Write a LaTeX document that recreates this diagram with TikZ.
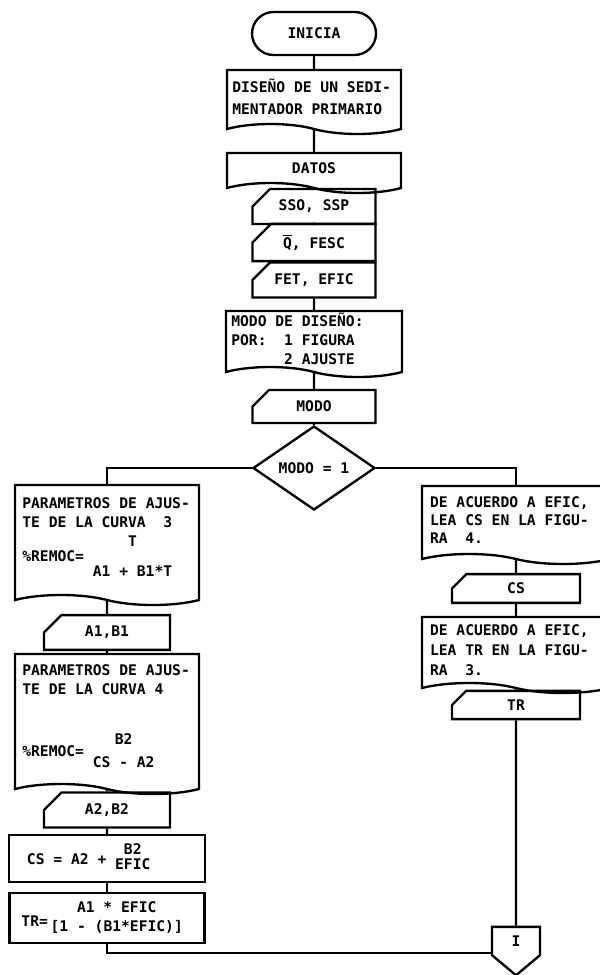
\documentclass[tikz,border=0pt]{standalone}
\usepackage{fontspec}
\newfontfamily\printerfont{DejaVu Sans Mono}
\usetikzlibrary{shapes.geometric,shapes.misc,shapes.symbols}
\newcommand{\frc}[3][0pt]{\begin{tabular}{@{}c@{}}#2\\[#1]#3\end{tabular}}
\newcommand{\monospacing}{\frenchspacing\spaceskip=0.602em\relax\xspaceskip=0.602em\relax}
\renewcommand{\arraystretch}{0.95}
\tikzset{
    flowchart/.style={
        x=0.3mm, y=-0.3mm,
        font={\printerfont\bfseries\fontsize{12.5}{16}\selectfont},
        every node/.style={draw, line width=2pt, inner sep=0pt, execute at begin node=\monospacing},
        every path/.style={line width=2pt},
        term/.style={rounded rectangle, minimum width=37.2mm, minimum height=12.9mm},
        doc/.style={tape, tape bend top=none, tape bend bottom=out and in,
            tape bend height=3mm, inner xsep=1.6mm, align=left},
        card/.style={chamfered rectangle, chamfered rectangle corners=north west,
            chamfered rectangle xsep=3.3mm, chamfered rectangle ysep=3.3mm},
        proc/.style={rectangle, align=left},
        decide/.style={diamond, minimum width=36.6mm, minimum height=25.2mm},
        offpage/.style={signal, signal to=south, signal pointer angle=100,
            minimum width=14.4mm, minimum height=9.6mm},
    },
}

\begin{document}
\begin{tikzpicture}[flowchart]
    \useasboundingbox (0,0) rectangle (600,975);
    \node[term] (inicia) at (314,33.5) {INICIA};
    \node[doc, text width=49mm, minimum height=19.2mm] (diseno) at (314,97) {DISEÑO DE UN SEDI-\\[1mm]MENTADOR PRIMARIO};
    \node[doc, minimum width=52.2mm, minimum height=12mm, align=center] (datos) at (314,168) {DATOS};
    \node[card, minimum width=36.9mm, minimum height=6.3mm] (sso) at (314,206.5) {SSO, SSP};
    \node[card, minimum width=36.9mm, minimum height=6.3mm] (q) at (314,242.5) {\ensuremath{\overline{\mbox{Q}}}, FESC};
    \node[card, minimum width=36.9mm, minimum height=7.2mm] (fet) at (314,280) {FET, EFIC};
    \node[doc, text width=49.6mm, minimum height=19.8mm] (modotxt) at (314,339) {MODO DE DISEÑO:\\POR:~~1 FIGURA\\\phantom{POR:~~}2 AJUSTE};
    \node[card, minimum width=36.9mm, minimum height=6.9mm] (modo) at (314,406.5) {MODO};
    \node[decide] (dec) at (314,468) {MODO = 1};

    \node[doc, text width=50.8mm, inner xsep=2.2mm, minimum height=36mm] (par1) at (107,540) {PARAMETROS DE AJUS-\\TE DE LA CURVA~~3\\[1.5mm]\%REMOC= \frc[3.7mm]{T}{A1 + B1*T}};
    \node[card, minimum width=37.8mm, minimum height=6.3mm] (a1b1) at (107,632.5) {A1,B1};
    \node[doc, text width=50.8mm, inner xsep=2.2mm, minimum height=42mm] (par2) at (107,719) {PARAMETROS DE AJUS-\\TE DE LA CURVA 4\\[11mm]\%REMOC= \frc[1.5mm]{B2}{CS - A2}};
    \node[card, minimum width=37.8mm, minimum height=6mm] (a2b2) at (107,810) {A2,B2};
    \node[proc, text width=48mm, inner xsep=5.4mm, minimum height=14.1mm] (cs) at (107,858.5) {CS = A2 + \raisebox{0.75mm}{\frc[-0.9mm]{B2}{EFIC}}};
    \node[proc, text width=51.3mm, inner xsep=3.6mm, minimum height=15mm] (tr) at (107,918) {TR=\hspace{0.8mm}\raisebox{1.35mm}{\frc[0.4mm]{A1 * EFIC}{[1 - (B1*EFIC)]}}};

    \node[doc, text width=51.6mm, inner xsep=2.4mm, minimum height=23.4mm, font={\printerfont\bfseries\fontsize{12.5}{15}\selectfont}] (ac1) at (516,520) {DE ACUERDO A EFIC,\\LEA CS EN LA FIGU-\\RA~~4.};
    \node[card, minimum width=38.4mm, minimum height=6.9mm] (cscard) at (516,588.5) {CS};
    \node[doc, text width=51.6mm, inner xsep=2.4mm, minimum height=22.8mm, font={\printerfont\bfseries\fontsize{12.5}{17}\selectfont}] (ac2) at (516,650) {DE ACUERDO A EFIC,\\LEA TR EN LA FIGU-\\RA~~3.};
    \node[card, minimum width=38.4mm, minimum height=7.8mm] (trcard) at (516,705) {TR};
    \node[offpage] (conn) at (516,941) {I};

    \draw (inicia) -- (diseno);
    \draw (diseno) -- (datos);
    \draw (datos) -- (sso);
    \draw (sso) -- (q);
    \draw (q) -- (fet);
    \draw (fet) -- (modotxt);
    \draw (modotxt) -- (modo);
    \draw (modo) -- (dec);
    \draw (dec.west) -| (par1.north);
    \draw (dec.east) -| (ac1.north);
    \draw (par1) -- (a1b1);
    \draw (a1b1) -- (par2);
    \draw (par2) -- (a2b2);
    \draw (a2b2) -- (cs);
    \draw (cs) -- (tr);
    \draw (tr.south) |- ([yshift=-3.6mm]conn.west);
    \draw (ac1) -- (cscard);
    \draw (cscard) -- (ac2);
    \draw (ac2) -- (trcard);
    \draw (trcard) -- (conn);
\end{tikzpicture}
\end{document}
